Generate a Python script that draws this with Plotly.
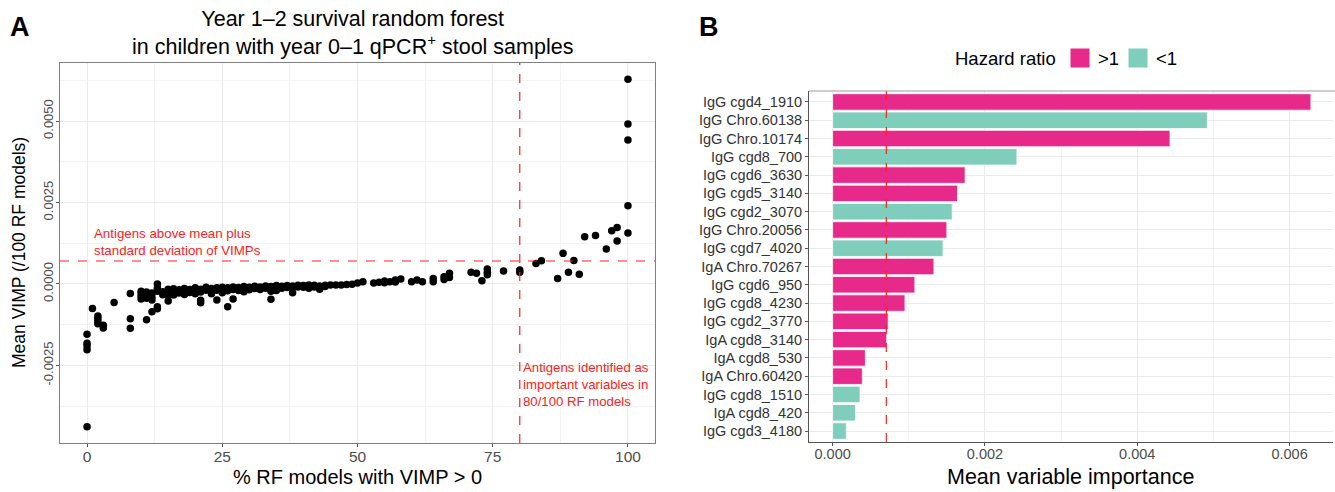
import plotly.graph_objects as go

# ---------------- Panel A data: % RF models with VIMP > 0 vs mean VIMP ----------------
pct_models = [
    0, 0, 0, 0, 0,
    1,
    2, 2, 2, 2,
    3, 3,
    5,
    8, 8, 8,
    10, 10, 10, 10,
    11, 11, 11, 11,
    12, 12, 12, 12,
    13, 13, 13, 13, 13,
    14, 14,
    15, 15, 15, 15,
    16, 16, 16,
    17, 17,
    18, 18, 18,
    19, 19,
    20, 20, 20,
    21, 21, 21, 21,
    22, 22,
    23, 23, 23,
    24, 24, 24,
    25, 25, 25,
    26, 26, 26,
    27, 27, 27,
    28, 28,
    29, 29, 29,
    30, 30,
    31, 31,
    32, 32,
    33, 33,
    34, 34, 34, 34,
    35, 35, 35,
    36, 36,
    37, 37,
    38, 38, 38,
    39, 39,
    40, 40,
    41, 41, 41,
    42, 42,
    43, 43,
    44, 44,
    45, 46, 47, 48, 49, 50, 51,
    53, 54, 55, 55, 56, 57, 57, 58,
    60, 61, 62, 64, 64, 66, 66, 67, 67,
    71, 72, 73, 74, 74, 74,
    77, 80, 80, 83, 84,
    87, 88, 89, 90, 91, 92, 94, 96, 97, 98, 98,
    100, 100, 100, 100, 100,
]
mean_vimp = [
    -1.54e-3, -1.82e-3, -1.90e-3, -2.02e-3, -4.38e-3,
    -0.75e-3,
    -0.98e-3, -1.06e-3, -1.14e-3, -1.22e-3,
    -1.27e-3, -1.35e-3,
    -0.57e-3,
    -0.29e-3, -1.07e-3, -1.36e-3,
    -0.22e-3, -0.30e-3, -0.38e-3, -0.46e-3,
    -0.25e-3, -0.34e-3, -0.44e-3, -1.10e-3,
    -0.28e-3, -0.40e-3, -0.49e-3, -0.85e-3,
    0.00e-3, -0.13e-3, -0.22e-3, -0.70e-3, -0.76e-3,
    -0.24e-3, -0.33e-3,
    -0.16e-3, -0.26e-3, -0.36e-3, -0.52e-3,
    -0.15e-3, -0.25e-3, -0.34e-3,
    -0.18e-3, -0.28e-3,
    -0.14e-3, -0.22e-3, -0.32e-3,
    -0.17e-3, -0.26e-3,
    -0.12e-3, -0.20e-3, -0.30e-3,
    -0.16e-3, -0.25e-3, -0.50e-3, -0.58e-3,
    -0.10e-3, -0.19e-3,
    -0.14e-3, -0.22e-3, -0.30e-3,
    -0.12e-3, -0.19e-3, -0.49e-3,
    -0.10e-3, -0.18e-3, -0.27e-3,
    -0.12e-3, -0.21e-3, -0.70e-3,
    -0.09e-3, -0.17e-3, -0.46e-3,
    -0.11e-3, -0.20e-3,
    -0.08e-3, -0.15e-3, -0.24e-3,
    -0.10e-3, -0.18e-3,
    -0.07e-3, -0.14e-3,
    -0.09e-3, -0.17e-3,
    -0.06e-3, -0.13e-3,
    -0.08e-3, -0.15e-3, -0.22e-3, -0.47e-3,
    -0.05e-3, -0.12e-3, -0.20e-3,
    -0.07e-3, -0.13e-3,
    -0.05e-3, -0.11e-3,
    -0.06e-3, -0.12e-3, -0.27e-3,
    -0.04e-3, -0.09e-3,
    -0.05e-3, -0.10e-3,
    -0.03e-3, -0.08e-3, -0.13e-3,
    -0.04e-3, -0.09e-3,
    -0.06e-3, -0.16e-3,
    -0.04e-3, -0.08e-3,
    -0.03e-3, -0.03e-3, -0.03e-3, -0.02e-3, -0.01e-3, 0.03e-3, 0.07e-3,
    0.03e-3, 0.05e-3, 0.04e-3, 0.09e-3, 0.07e-3, 0.12e-3, 0.06e-3, 0.15e-3,
    0.07e-3, 0.12e-3, 0.07e-3, 0.07e-3, 0.17e-3, 0.14e-3, 0.22e-3, 0.20e-3, 0.33e-3,
    0.36e-3, 0.33e-3, 0.10e-3, 0.28e-3, 0.36e-3, 0.46e-3,
    0.40e-3, 0.36e-3, 0.43e-3, 0.63e-3, 0.71e-3,
    0.17e-3, 0.94e-3, 0.36e-3, 0.72e-3, 0.30e-3, 1.45e-3, 1.49e-3, 1.07e-3, 1.63e-3, 1.32e-3, 1.73e-3,
    1.56e-3, 2.40e-3, 4.42e-3, 4.91e-3, 6.28e-3,
]
vimp_threshold = 0.000705
model_threshold = 80

x_ticks_a = [0, 25, 50, 75, 100]
y_ticks_a = [-0.0025, 0.0, 0.0025, 0.005]
y_ticktext_a = ["-0.0025", "0.0000", "0.0025", "0.0050"]

# ---------------- Panel B data: mean variable importance ----------------
antigens = [
    "IgG cgd4_1910", "IgG Chro.60138", "IgG Chro.10174", "IgG cgd8_700",
    "IgG cgd6_3630", "IgG cgd5_3140", "IgG cgd2_3070", "IgG Chro.20056",
    "IgG cgd7_4020", "IgA Chro.70267", "IgG cgd6_950", "IgG cgd8_4230",
    "IgG cgd2_3770", "IgA cgd8_3140", "IgA cgd8_530", "IgA Chro.60420",
    "IgG cgd8_1510", "IgA cgd8_420", "IgG cgd3_4180",
]
importance = [
    0.00628, 0.00492, 0.00443, 0.00242,
    0.00174, 0.00164, 0.00157, 0.00150,
    0.00145, 0.00133, 0.00108, 0.00095,
    0.00073, 0.00071, 0.00043, 0.00039,
    0.00036, 0.00030, 0.00018,
]
hazard = [
    ">1", "<1", ">1", "<1",
    ">1", ">1", "<1", ">1",
    "<1", ">1", ">1", ">1",
    ">1", ">1", ">1", ">1",
    "<1", "<1", "<1",
]
hazard_groups = [">1", "<1"]
hazard_colors = {">1": "#E7298A", "<1": "#7FCDBB"}
x_ticks_b = [0.0, 0.002, 0.004, 0.006]
x_ticktext_b = ["0.000", "0.002", "0.004", "0.006"]

FONT = "Liberation Sans, Arial, sans-serif"
GRID = "#EBEBEB"
RED = "#FF2020"
W, H = 1335, 492


def px_x(p):
    return p / W


def px_y(p):
    return 1 - p / H


fig = go.Figure()

fig.add_trace(go.Scatter(
    x=pct_models, y=mean_vimp, mode="markers",
    marker=dict(color="black", size=7.5),
    showlegend=False, xaxis="x", yaxis="y", hoverinfo="x+y",
))

for grp in hazard_groups:
    xs = [v for v, h in zip(importance, hazard) if h == grp]
    ys = [a for a, h in zip(antigens, hazard) if h == grp]
    fig.add_trace(go.Bar(
        x=xs, y=ys, orientation="h", name=grp, width=0.9, showlegend=False,
        marker=dict(color=hazard_colors[grp], line=dict(color="white", width=0.8)),
        xaxis="x2", yaxis="y2",
    ))

tick_common = dict(ticks="outside", ticklen=3, tickcolor="#555", zeroline=False)

shapes = [
    dict(type="line", xref="x", yref="y domain", x0=model_threshold, x1=model_threshold, y0=0, y1=1,
         line=dict(color=RED, width=1.2, dash="dash")),
    dict(type="line", xref="x domain", yref="y", x0=0, x1=1, y0=vimp_threshold, y1=vimp_threshold,
         line=dict(color=RED, width=1.2, dash="dash")),
    dict(type="line", xref="x2", yref="y2 domain", x0=vimp_threshold, x1=vimp_threshold, y0=0, y1=1,
         line=dict(color=RED, width=1.2, dash="dash"), layer="above"),
    dict(type="line", xref="paper", yref="paper", x0=px_x(809), x1=px_x(1335), y0=px_y(91), y1=px_y(91),
         line=dict(color="#9A9A9A", width=1)),
]

annotations = [
    dict(text="<b>A</b>", x=px_x(8), y=px_y(27), xref="paper", yref="paper", xanchor="left", yanchor="middle",
         showarrow=False, font=dict(family=FONT, size=27, color="black")),
    dict(text="<b>B</b>", x=px_x(697), y=px_y(27), xref="paper", yref="paper", xanchor="left", yanchor="middle",
         showarrow=False, font=dict(family=FONT, size=27, color="black")),
    dict(text="Year 1–2 survival random forest<br>in children with year 0–1 qPCR<sup>+</sup> stool samples",
         x=px_x(352), y=px_y(33), xref="paper", yref="paper", xanchor="center", yanchor="middle",
         showarrow=False, font=dict(family=FONT, size=21.5, color="black")),
    # axis titles
    dict(text="% RF models with VIMP > 0", x=px_x(357), y=px_y(477), xref="paper", yref="paper",
         xanchor="center", yanchor="middle", showarrow=False, font=dict(family=FONT, size=20, color="black")),
    dict(text="Mean VIMP (/100 RF models)", x=px_x(19), y=px_y(253), xref="paper", yref="paper",
         xanchor="center", yanchor="middle", textangle=-90, showarrow=False,
         font=dict(family=FONT, size=17.5, color="black")),
    dict(text="Mean variable importance", x=px_x(1070), y=px_y(477), xref="paper", yref="paper",
         xanchor="center", yanchor="middle", showarrow=False, font=dict(family=FONT, size=21.5, color="black")),
    # reference line labels
    dict(text="Antigens above mean plus<br>standard deviation of VIMPs", x=1, y=vimp_threshold,
         xref="x", yref="y", xanchor="left", yanchor="bottom", align="left", showarrow=False,
         yshift=1, font=dict(family=FONT, size=13.3, color=RED)),
    dict(text="Antigens identified as<br>important variables in<br>80/100 RF models", x=model_threshold, y=-0.00228,
         xref="x", yref="y", xanchor="left", yanchor="top", align="left", showarrow=False,
         xshift=1, font=dict(family=FONT, size=13.2, color=RED)),
    # manual legend title
    dict(text="Hazard ratio", x=px_x(1058), y=px_y(58), xref="paper", yref="paper", xanchor="right",
         yanchor="middle", showarrow=False, font=dict(family=FONT, size=18.5, color="black")),
]

# manual legend keys and labels, one per hazard group
legend_key_left = [1070, 1128]
for grp, kx in zip(hazard_groups, legend_key_left):
    shapes.append(dict(type="rect", xref="paper", yref="paper", x0=px_x(kx), x1=px_x(kx + 20),
                       y0=px_y(68), y1=px_y(48), fillcolor=hazard_colors[grp],
                       line=dict(color="white", width=1)))
    annotations.append(dict(text=grp, x=px_x(kx + 26), y=px_y(58), xref="paper", yref="paper",
                            xanchor="left", yanchor="middle", showarrow=False,
                            font=dict(family=FONT, size=18.5, color="black")))

fig.update_layout(
    width=W, height=H,
    margin=dict(l=0, r=0, t=0, b=0),
    paper_bgcolor="white", plot_bgcolor="white",
    font=dict(family=FONT, color="black"),
    barmode="overlay",
    showlegend=False,
    xaxis=dict(
        **tick_common,
        showgrid=True, gridcolor=GRID,
        tickfont=dict(family=FONT, size=15.5, color="#4D4D4D"),
        ticklabelstandoff=-4,
        domain=[px_x(60), px_x(655)], anchor="y",
        range=[-5, 105], tickvals=x_ticks_a,
        minor=dict(tickvals=[12.5, 37.5, 62.5, 87.5], showgrid=True, gridcolor="#F3F3F3", ticks=""),
        showline=True, linecolor="#7F7F7F", linewidth=1, mirror=True,
    ),
    yaxis=dict(
        **tick_common,
        showgrid=True, gridcolor=GRID,
        tickfont=dict(family=FONT, size=13, color="#4D4D4D"),
        ticklabelstandoff=-2,
        domain=[px_y(443), px_y(63)], anchor="x",
        range=[-0.00488, 0.00678], tickvals=y_ticks_a, ticktext=y_ticktext_a, tickangle=-90,
        minor=dict(tickvals=[-0.00375, -0.00125, 0.00125, 0.00375, 0.00625], showgrid=True,
                   gridcolor="#F3F3F3", ticks=""),
        showline=True, linecolor="#7F7F7F", linewidth=1, mirror=True,
    ),
    xaxis2=dict(
        **tick_common,
        showgrid=True, gridcolor=GRID,
        tickfont=dict(family=FONT, size=14.5, color="#4D4D4D"),
        ticklabelstandoff=-4,
        domain=[px_x(809), px_x(1333)], anchor="y2",
        range=[-0.00031, 0.00657], tickvals=x_ticks_b, ticktext=x_ticktext_b,
        minor=dict(tickvals=[0.001, 0.003, 0.005], showgrid=True, gridcolor="#F3F3F3", ticks=""),
        showline=True, linecolor="#555", linewidth=1, mirror=False,
    ),
    yaxis2=dict(
        **tick_common,
        showgrid=True, gridcolor=GRID,
        tickfont=dict(family=FONT, size=14.5, color="#333333"),
        domain=[px_y(442), px_y(91)], anchor="x2",
        type="category", categoryorder="array", categoryarray=antigens[::-1],
        range=[-0.6, len(antigens) - 0.4],
        showline=True, linecolor="#555", linewidth=1,
    ),
    shapes=shapes,
    annotations=annotations,
)

fig.write_html(
    "out.html",
    config={"displayModeBar": False},
    post_script="document.body.style.margin='0';document.body.style.overflow='hidden';",
)
